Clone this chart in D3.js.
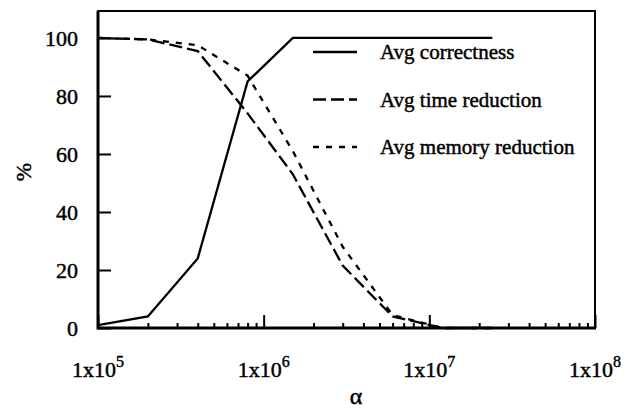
<!DOCTYPE html>
<html>
<head>
<meta charset="utf-8">
<style>
body { margin: 0; background: #fff; }
text { font-family: "Liberation Serif", "Times New Roman", serif; fill: #000; stroke: #000; stroke-width: 0.45px; }
.axis path { display: none; }
.axis line { stroke: #000; stroke-width: 2px; }
.axis text { font-size: 22px; }
.series { fill: none; stroke: #000; stroke-width: 2.3px; }
</style>
</head>
<body>
<svg width="632" height="408"></svg>
<script src="https://cdn.jsdelivr.net/npm/d3@7"></script>
<script>
// values
var alpha = [1e5, 2e5, 4e5, 8e5, 1.5e6, 3e6, 6e6, 1.2e7, 2.4e7];
var correctness = [1, 4, 24, 85, 100, 100, 100, 100, 100];
var timeReduction = [100, 99.5, 95.5, 74, 53, 21.5, 4, 0, 0];
var memoryReduction = [100, 99.5, 97.5, 87, 61, 28, 4.5, 0, 0];
var yTicks = [0, 20, 40, 60, 80, 100];
var xTicks = [1e5, 1e6, 1e7, 1e8];
var seriesNames = ["Avg correctness", "Avg time reduction", "Avg memory reduction"];

var svg = d3.select("svg"),
    margin = {top: 11, right: 37, bottom: 80, left: 98},
    width = +svg.attr("width") - margin.left - margin.right,
    height = +svg.attr("height") - margin.top - margin.bottom,
    g = svg.append("g").attr("transform", "translate(" + margin.left + "," + margin.top + ")");

var x = d3.scaleLog().domain([1e5, 1e8]).range([0, width]);
var y = d3.scaleLinear().domain([0, 109.3]).range([height, 0]);

var dashes = [null, "13,5", "6,7"];
var seriesVals = [correctness, timeReduction, memoryReduction];

// minor ticks on x
var minor = [];
for (var e = 5; e < 8; e++) {
  for (var k = 2; k <= 9; k++) minor.push(k * Math.pow(10, e));
}
g.append("g")
    .attr("class", "axis")
    .attr("transform", "translate(0," + height + ")")
    .call(d3.axisBottom(x).tickValues(minor).tickSize(-5).tickFormat(""));
g.append("g")
    .attr("class", "axis")
    .attr("transform", "translate(0," + height + ")")
    .call(d3.axisBottom(x).tickValues(xTicks).tickSize(-13).tickFormat(""));

// x labels with superscript
var xl = g.selectAll(".xlab")
  .data(xTicks)
  .enter().append("text")
    .attr("class", "xlab")
    .attr("x", function(d) { return x(d); })
    .attr("y", height + 49)
    .attr("text-anchor", "middle")
    .style("font-size", "22px");
xl.append("tspan").text("1x10");
xl.append("tspan")
    .attr("dy", -10)
    .style("font-size", "16px")
    .text(function(d) { return Math.round(Math.log10(d)); });

g.append("g")
    .attr("class", "axis")
    .call(d3.axisLeft(y).tickValues(yTicks).tickSize(-13).tickPadding(20));

// frame
g.append("rect")
    .attr("width", width)
    .attr("height", height)
    .attr("fill", "none")
    .attr("stroke", "#000")
    .attr("stroke-width", 2);
g.append("line").attr("x1", 0).attr("x2", 0).attr("y1", 0).attr("y2", height + 1.5)
    .attr("stroke", "#000").attr("stroke-width", 3);
g.append("line").attr("x1", 0).attr("x2", width + 1).attr("y1", height).attr("y2", height)
    .attr("stroke", "#000").attr("stroke-width", 3);

var line = d3.line()
    .x(function(d) { return x(d[0]); })
    .y(function(d) { return y(d[1]); });

seriesVals.forEach(function(vals, i) {
  g.append("path")
      .datum(alpha.map(function(a, j) { return [a, vals[j]]; }))
      .attr("class", "series")
      .attr("stroke-dasharray", dashes[i])
      .attr("d", line);
});

// legend
var legend = g.selectAll(".legend")
  .data(seriesNames)
  .enter().append("g")
    .attr("class", "legend")
    .attr("transform", function(d, i) { return "translate(215," + (41 + i * 47.5) + ")"; });
legend.append("line")
    .attr("x1", 0).attr("x2", 44)
    .attr("stroke", "#000")
    .attr("stroke-width", 2.3)
    .attr("stroke-dasharray", function(d, i) { return dashes[i]; });
legend.append("text")
    .attr("x", 67)
    .attr("y", 7)
    .style("font-size", "21px")
    .text(function(d) { return d; });

// axis titles
svg.append("text")
    .attr("x", 356)
    .attr("y", 404)
    .attr("text-anchor", "middle")
    .style("font-size", "24px")
    .text("α");
svg.append("text")
    .attr("transform", "translate(31,172) rotate(-90)")
    .attr("text-anchor", "middle")
    .style("font-size", "22px")
    .text("%");
</script>
</body>
</html>
